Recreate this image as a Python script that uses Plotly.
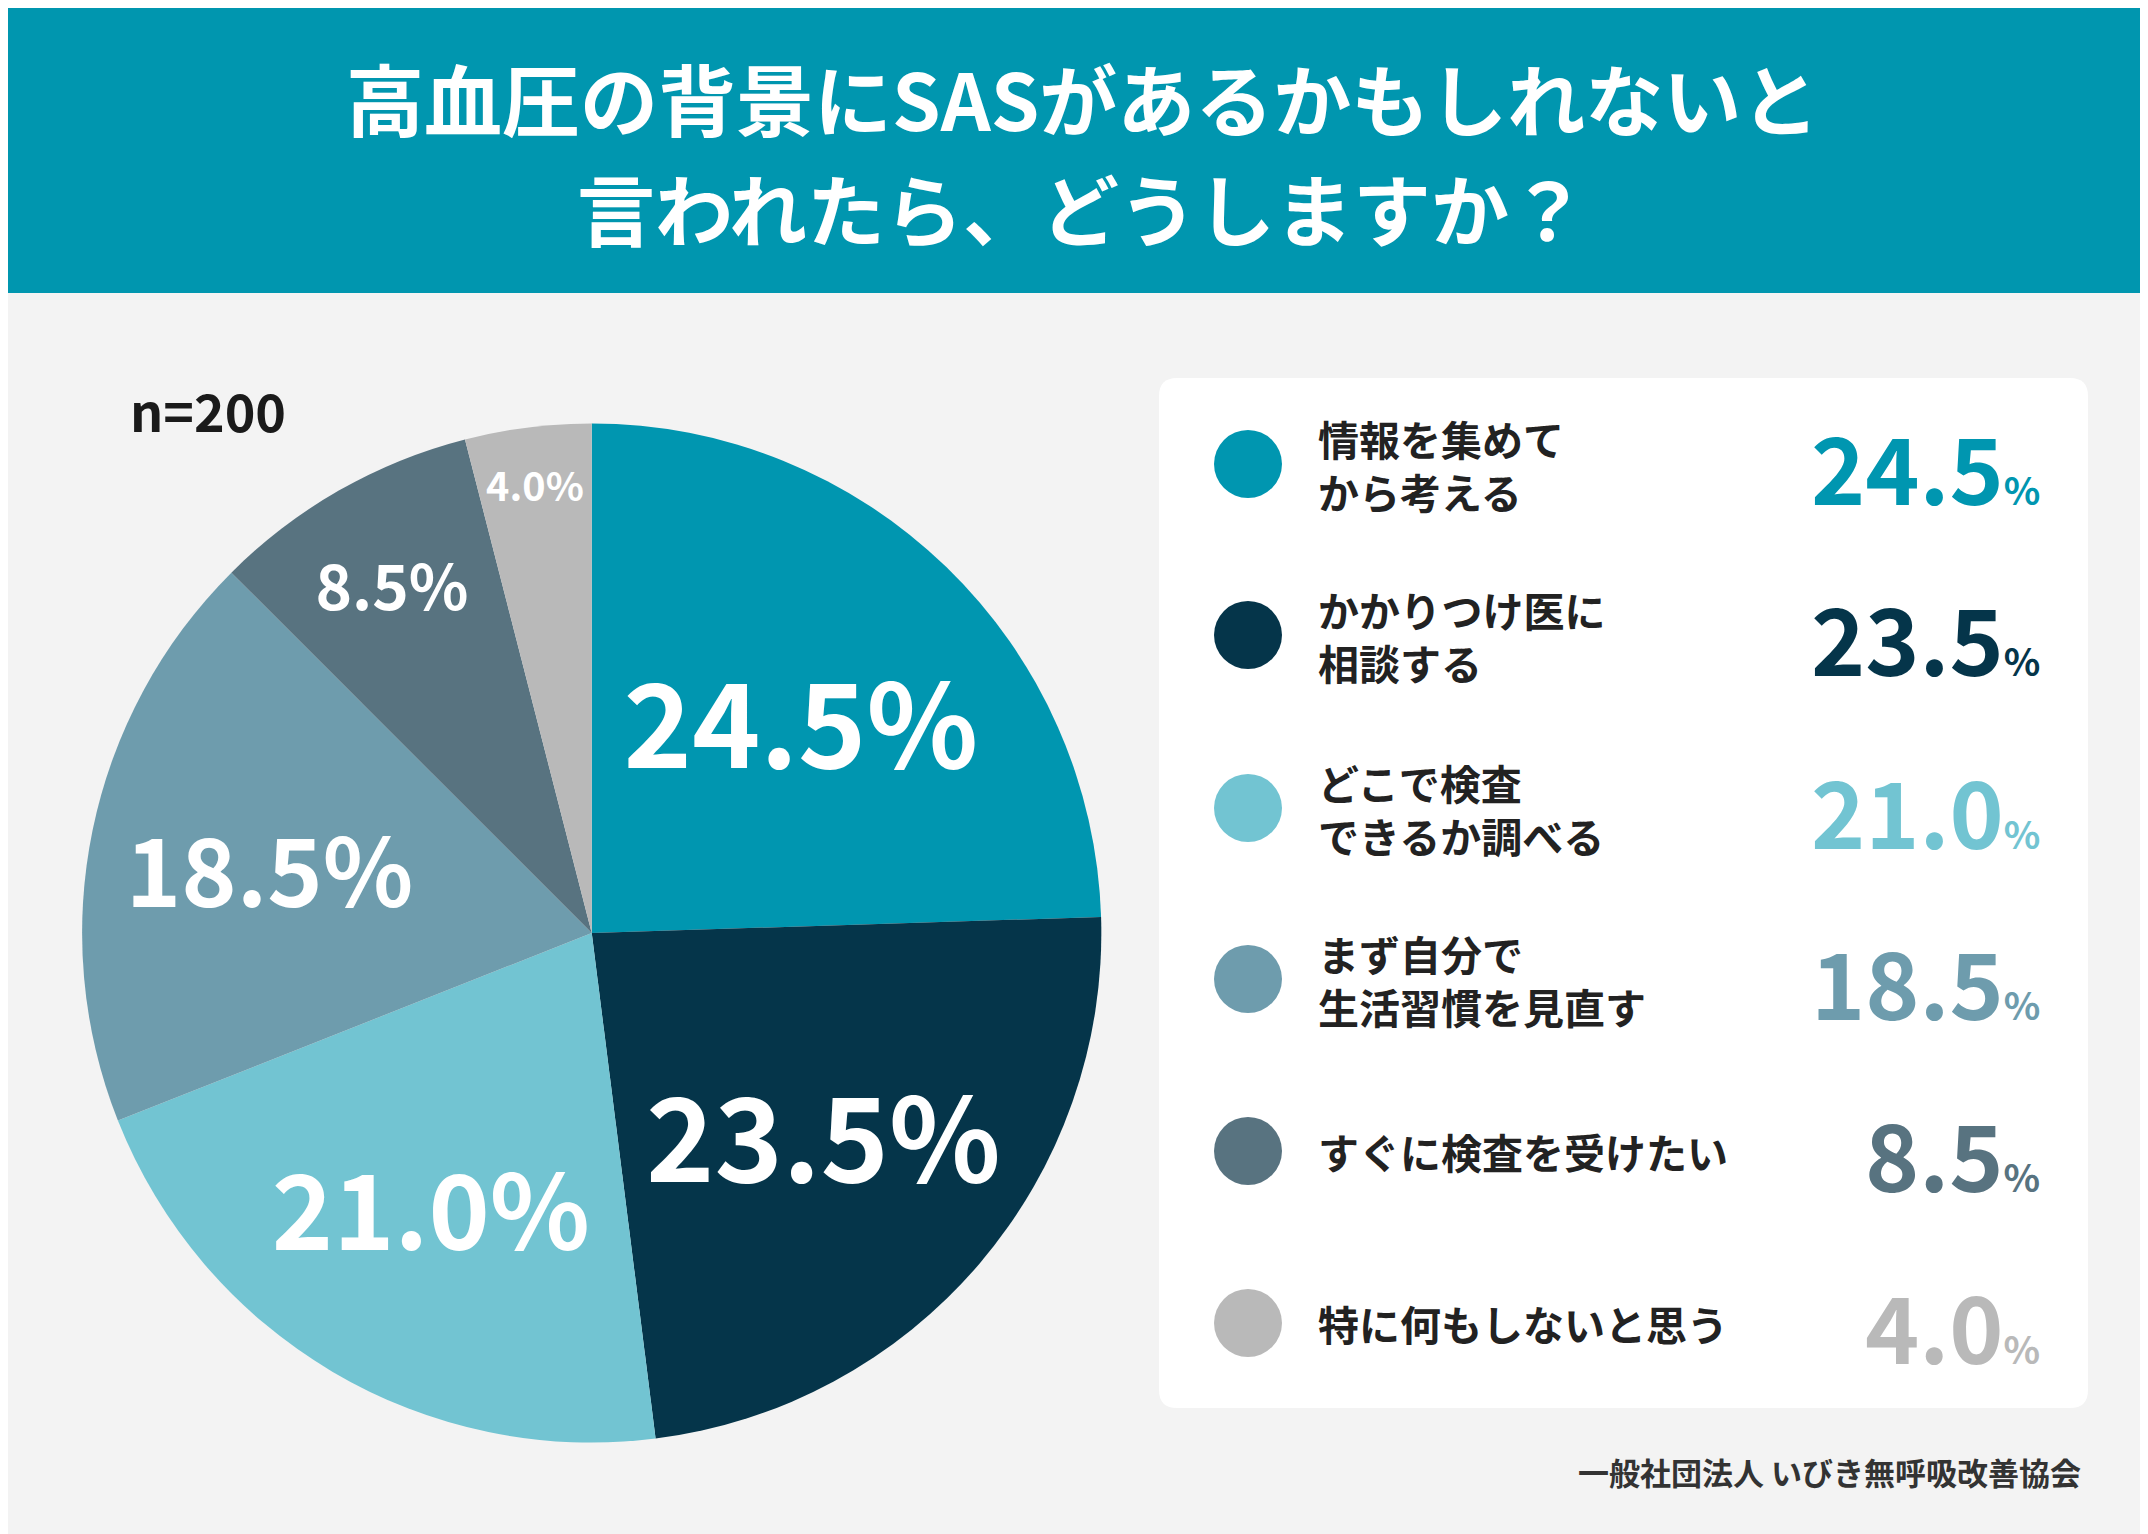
import plotly.graph_objects as go

labels = ["情報を集めて<br>から考える", "かかりつけ医に<br>相談する", "どこで検査<br>できるか調べる",
          "まず自分で<br>生活習慣を見直す", "すぐに検査を受けたい", "特に何もしないと思う"]
values = [24.5, 23.5, 21.0, 18.5, 8.5, 4.0]
colors = ["#0096B0", "#05354A", "#72C4D2", "#6E9CAD", "#587380", "#B9B9B9"]
label_sizes = [116, 116, 104, 94, 62, 48]

W, H = 2148, 1534
FONT = "Noto Sans CJK JP"

fig = go.Figure()

fig.add_trace(go.Pie(
    values=values, labels=[l.replace("<br>", "") for l in labels],
    marker=dict(colors=colors, line=dict(width=0)),
    sort=False, direction="clockwise", rotation=0,
    texttemplate="<b>%{value:.1f}%</b>", textposition="inside",
    insidetextorientation="horizontal",
    textfont=dict(family=FONT, color="white", size=label_sizes),
    domain=dict(x=[0.0345, 0.509], y=[0.0645, 0.7295]),
    showlegend=False, hoverinfo="label+value",
))

# legend rows
row_y = [456, 627, 800, 971, 1143, 1315]
fig.add_trace(go.Scatter(
    x=[1240] * len(values), y=row_y, mode="markers",
    marker=dict(size=68, color=colors), showlegend=False, hoverinfo="skip",
))

x0, x1, y0, y1, r = 1151, 2080, 370, 1400, 18
box = (f"M{x0+r},{y0} L{x1-r},{y0} Q{x1},{y0} {x1},{y0+r} L{x1},{y1-r} Q{x1},{y1} {x1-r},{y1} "
       f"L{x0+r},{y1} Q{x0},{y1} {x0},{y1-r} L{x0},{y0+r} Q{x0},{y0} {x0+r},{y0} Z")
shapes = [
    dict(type="rect", xref="x", yref="y", x0=-10, x1=W + 10, y0=-10, y1=285,
         fillcolor="#0096AF", line=dict(width=0), layer="below"),
    dict(type="path", xref="x", yref="y", path=box,
         fillcolor="white", line=dict(width=0), layer="below"),
]

annotations = [
    dict(x=W / 2, y=89, text="<b>高血圧の背景にSASがあるかもしれないと</b>",
         font=dict(family=FONT, size=78, color="white"), showarrow=False),
    dict(x=W / 2, y=199, text="<b>言われたら、どうしますか？</b>",
         font=dict(family=FONT, size=78, color="white"), showarrow=False),
    dict(x=120, y=401, text="<b>n=200</b>", xanchor="left",
         font=dict(family=FONT, size=52, color="#1a1a1a"), showarrow=False),
    dict(x=2075, y=1463, text="<b>一般社団法人 いびき無呼吸改善協会</b>", xanchor="right",
         font=dict(family=FONT, size=31, color="#333333"), showarrow=False),
]
for lab, val, col, y in zip(labels, values, colors, row_y):
    annotations.append(dict(x=1308, y=y, text="<b>" + lab + "</b>", xanchor="left", align="left",
                            font=dict(family=FONT, size=41, color="#222222"), showarrow=False))
    annotations.append(dict(x=2034, y=y, xanchor="right",
                            text=f"<b>{val:.1f}<span style='font-size:38px'>%</span></b>",
                            font=dict(family=FONT, size=92, color=col), showarrow=False))

fig.update_layout(
    width=W, height=H, margin=dict(l=0, r=0, t=0, b=0),
    paper_bgcolor="#F3F3F3", plot_bgcolor="rgba(0,0,0,0)",
    xaxis=dict(range=[0, W], visible=False, domain=[0, 1], fixedrange=True),
    yaxis=dict(range=[H, 0], visible=False, domain=[0, 1], fixedrange=True),
    shapes=shapes, annotations=annotations,
)

fig.write_html("out.html")
